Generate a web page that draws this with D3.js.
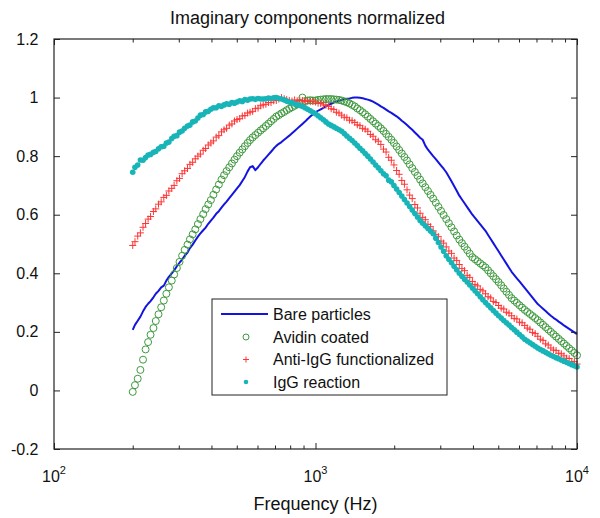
<!DOCTYPE html>
<html><head><meta charset="utf-8">
<script src="https://cdn.jsdelivr.net/npm/d3@7"></script>
<style>html,body{margin:0;padding:0;background:#fff}svg{display:block}</style>
</head><body>
<script>
const freq = [200,204,209,214,219,224,229,234,240,245,251,257,263,269,275,282,288,295,302,309,316,324,331,339,347,355,363,372,380,389,398,407,417,427,437,447,457,468,479,490,501,513,525,537,550,562,575,589,603,617,631,646,661,676,692,708,724,741,759,776,794,813,832,851,871,891,912,933,955,977,1000,
1023,1047,1072,1096,1122,1148,1175,1202,1230,1259,1288,1318,1349,1380,1413,1445,1479,1514,1549,1585,1622,1660,1698,1738,1778,1820,1862,1905,1950,1995,2042,2089,2138,2188,2239,2291,2344,2399,2455,2512,2570,2630,2692,2754,2818,2884,2951,3020,3090,3162,3236,3311,3388,3467,3548,3631,3715,3802,3890,3981,4074,4169,4266,4365,4467,4571,4677,4786,4898,5012,5129,5248,5370,5495,5623,5754,5888,6026,6166,6310,6457,6607,6761,6918,7079,7244,7413,7586,7762,7943,8128,8318,8511,8710,8913,9120,9333,9550,9772,10000];

const bare = [0.207,0.224,0.238,0.252,0.270,0.285,
0.296,0.305,0.318,0.330,0.340,0.352,0.358,0.375,0.388,0.400,0.410,0.424,0.436,0.447,0.460,
0.471,0.486,0.498,0.512,0.525,0.536,0.547,0.556,0.569,0.580,0.590,0.603,0.612,0.624,0.635,
0.645,0.657,0.668,0.679,0.690,0.701,0.715,0.729,0.748,0.762,0.766,0.752,0.762,0.774,0.785,
0.795,0.805,0.815,0.826,0.835,0.842,0.848,0.856,0.863,0.870,0.878,0.886,0.894,0.902,0.910,
0.918,0.927,0.935,0.943,0.950,0.955,0.960,0.965,0.970,0.975,0.979,0.983,0.986,0.989,0.992,
0.994,0.996,0.997,0.999,1.000,1.000,0.999,0.998,0.995,0.993,0.990,0.986,0.981,0.976,0.970,
0.965,0.959,0.953,0.948,0.942,0.936,0.929,0.921,0.914,0.906,0.898,0.890,0.881,0.872,0.863,
0.856,0.836,0.822,0.811,0.800,0.790,0.779,0.768,0.757,0.745,0.730,0.714,0.698,0.682,0.665,
0.652,0.639,0.626,0.613,0.600,0.589,0.578,0.567,0.556,0.545,0.531,0.517,0.503,0.489,0.475,
0.461,0.447,0.433,0.419,0.405,0.394,0.383,0.372,0.361,0.350,0.339,0.328,0.317,0.306,0.295,
0.287,0.279,0.271,0.263,0.255,0.248,0.242,0.235,0.229,0.222,0.216,0.210,0.204,0.198,0.192];

const avidin = [-0.005,0.018,0.040,0.070,0.105,0.140,
0.165,0.190,0.213,0.237,0.260,0.284,0.307,0.330,0.352,0.375,0.396,0.418,0.439,0.460,0.480,
0.498,0.516,0.533,0.550,0.568,0.585,0.602,0.619,0.635,0.650,0.668,0.686,0.703,0.720,0.735,
0.749,0.762,0.775,0.788,0.800,0.812,0.823,0.834,0.845,0.855,0.864,0.872,0.880,0.888,0.895,
0.903,0.911,0.919,0.927,0.935,0.940,0.946,0.951,0.957,0.962,0.967,0.972,0.977,0.982,1.000,
0.988,0.990,0.991,0.990,0.990,0.992,0.993,0.994,0.995,0.995,0.995,0.994,0.993,0.992,0.990,
0.987,0.984,0.980,0.975,0.970,0.963,0.957,0.950,0.943,0.935,0.927,0.919,0.911,0.903,0.895,
0.886,0.876,0.866,0.856,0.845,0.833,0.821,0.809,0.797,0.785,0.772,0.759,0.746,0.733,0.720,
0.707,0.694,0.681,0.668,0.655,0.641,0.627,0.613,0.599,0.585,0.571,0.557,0.543,0.529,0.515,
0.503,0.491,0.479,0.467,0.455,0.448,0.441,0.434,0.427,0.420,0.410,0.400,0.390,0.380,0.370,
0.359,0.348,0.337,0.326,0.315,0.307,0.299,0.291,0.283,0.275,0.268,0.261,0.254,0.247,0.240,
0.232,0.224,0.216,0.208,0.200,0.192,0.184,0.176,0.168,0.160,0.152,0.144,0.136,0.128,0.120];

const antiIgG = [0.495,0.508,0.527,0.538,0.557,0.570,
0.585,0.594,0.611,0.620,0.636,0.644,0.659,0.666,0.681,0.690,0.700,0.716,0.724,0.740,0.750,
0.758,0.772,0.779,0.791,0.800,0.807,0.820,0.826,0.838,0.845,0.852,0.865,0.870,0.883,0.890,
0.895,0.906,0.910,0.920,0.925,0.928,0.937,0.939,0.947,0.950,0.953,0.962,0.964,0.972,0.975,
0.977,0.983,0.983,0.989,0.990,0.995,1.000,0.996,0.993,0.990,0.988,0.992,0.989,0.991,0.990,
0.987,0.989,0.986,0.987,0.985,0.981,0.980,0.975,0.974,0.970,0.962,0.959,0.950,0.947,0.940,
0.933,0.931,0.923,0.921,0.915,0.907,0.904,0.895,0.892,0.885,0.874,0.868,0.856,0.851,0.840,
0.824,0.814,0.796,0.786,0.770,0.751,0.738,0.717,0.704,0.685,0.667,0.655,0.635,0.623,0.605,
0.591,0.583,0.567,0.559,0.545,0.532,0.525,0.510,0.503,0.490,0.476,0.468,0.452,0.444,0.430,
0.416,0.409,0.393,0.386,0.372,0.362,0.357,0.345,0.340,0.330,0.320,0.316,0.304,0.300,0.290,
0.281,0.278,0.267,0.264,0.255,0.246,0.244,0.233,0.231,0.222,0.213,0.209,0.198,0.194,0.185,
0.175,0.171,0.159,0.155,0.145,0.138,0.136,0.127,0.125,0.118,0.110,0.109,0.099,0.098,0.090];

const igg = [0.745,0.762,0.770,0.787,0.786,0.795,
0.804,0.806,0.813,0.816,0.825,0.832,0.834,0.845,0.848,0.860,0.868,0.870,0.882,0.886,0.895,
0.903,0.906,0.917,0.920,0.930,0.940,0.942,0.951,0.953,0.960,0.965,0.965,0.972,0.970,0.975,
0.979,0.977,0.983,0.981,0.985,0.989,0.987,0.993,0.991,0.995,0.996,0.994,0.997,0.995,0.995,
0.996,0.998,0.997,0.999,1.000,0.997,0.995,0.992,0.988,0.985,0.982,0.979,0.976,0.973,0.970,
0.965,0.960,0.955,0.950,0.945,0.938,0.931,0.924,0.917,0.910,0.905,0.900,0.895,0.890,0.885,
0.877,0.869,0.861,0.853,0.845,0.836,0.827,0.818,0.809,0.800,0.790,0.780,0.770,0.760,0.750,
0.740,0.733,0.718,0.712,0.700,0.688,0.676,0.664,0.652,0.640,0.628,0.616,0.604,0.592,0.580,
0.571,0.562,0.553,0.544,0.535,0.520,0.505,0.490,0.475,0.460,0.448,0.436,0.424,0.412,0.400,
0.390,0.380,0.370,0.360,0.350,0.340,0.330,0.320,0.310,0.300,0.291,0.282,0.273,0.264,0.255,
0.247,0.239,0.231,0.223,0.215,0.207,0.199,0.191,0.183,0.175,0.169,0.163,0.157,0.151,0.145,
0.140,0.135,0.130,0.125,0.120,0.116,0.112,0.108,0.104,0.100,0.096,0.092,0.088,0.084,0.080];

const yTicks = [-0.2, 0, 0.2, 0.4, 0.6, 0.8, 1, 1.2];
const yTickLabels = ["-0.2", "0", "0.2", "0.4", "0.6", "0.8", "1", "1.2"];
const xMajor = [100, 1000, 10000];
const xMajorExp = ["2", "3", "4"];
const xMinor = [200,300,400,500,600,700,800,900,2000,3000,4000,5000,6000,7000,8000,9000];
const legendLabels = ["Bare particles", "Avidin coated", "Anti-IgG functionalized", "IgG reaction"];
const titleText = "Imaginary components normalized";
const xLabelText = "Frequency (Hz)";

const W = 600, H = 518;
const L = 54, R = 577, T = 39, B = 449;
const FONT = "'Liberation Sans', Arial, Helvetica, sans-serif";
const C_BLUE = "#1414e0", C_GREEN = "#3f9a3f", C_RED = "#ff3535", C_CYAN = "#17b4b8";

const svg = d3.select("body").append("svg").attr("width", W).attr("height", H)
  .style("font-family", FONT);

const x = d3.scaleLog().domain([100, 10000]).range([L, R]);
const y = d3.scaleLinear().domain([-0.2, 1.2]).range([B, T]);

function pts(vals) {
  const n = Math.min(freq.length, vals.length);
  const out = [];
  for (let i = 0; i < n; i++) out.push([freq[i], vals[i]]);
  return out;
}

const plot = svg.append("g");

// Bare particles: line
plot.append("path").datum(pts(bare))
  .attr("fill", "none").attr("stroke", C_BLUE).attr("stroke-width", 2)
  .attr("stroke-linejoin", "round")
  .attr("d", d3.line().x(d => x(d[0])).y(d => y(d[1])));

// Avidin: open circles
plot.append("g").selectAll("circle").data(pts(avidin)).join("circle")
  .attr("cx", d => x(d[0])).attr("cy", d => y(d[1])).attr("r", 3.5)
  .attr("fill", "none").attr("stroke", C_GREEN).attr("stroke-width", 1);

// Anti-IgG: plus markers
plot.append("g").selectAll("path").data(pts(antiIgG)).join("path")
  .attr("transform", d => `translate(${x(d[0])},${y(d[1])})`)
  .attr("d", "M-3.5,0H3.5M0,-3.5V3.5")
  .attr("fill", "none").attr("stroke", C_RED).attr("stroke-width", 1);

// IgG: filled dots
plot.append("g").selectAll("circle").data(pts(igg)).join("circle")
  .attr("cx", d => x(d[0])).attr("cy", d => y(d[1])).attr("r", 2.8)
  .attr("fill", C_CYAN).attr("stroke", "none");

// Axes (inward ticks on all four sides)
function styleAxis(g) {
  g.select(".domain").remove();
  g.selectAll(".tick line").attr("stroke", "#222");
}
svg.append("g").attr("transform", `translate(0,${B})`)
  .call(d3.axisBottom(x).tickValues(xMajor).tickSize(-6).tickSizeOuter(0).tickFormat(""))
  .call(styleAxis);
svg.append("g").attr("transform", `translate(0,${B})`)
  .call(d3.axisBottom(x).tickValues(xMinor).tickSize(-3.5).tickSizeOuter(0).tickFormat(""))
  .call(styleAxis);
svg.append("g").attr("transform", `translate(0,${T})`)
  .call(d3.axisTop(x).tickValues(xMajor).tickSize(-6).tickSizeOuter(0).tickFormat(""))
  .call(styleAxis);
svg.append("g").attr("transform", `translate(0,${T})`)
  .call(d3.axisTop(x).tickValues(xMinor).tickSize(-3.5).tickSizeOuter(0).tickFormat(""))
  .call(styleAxis);
const yl = svg.append("g").attr("transform", `translate(${L},0)`)
  .call(d3.axisLeft(y).tickValues(yTicks).tickSize(-6).tickSizeOuter(0).tickPadding(15.5)
    .tickFormat((d, i) => yTickLabels[i]))
  .call(styleAxis);
yl.selectAll("text").attr("font-size", 16).attr("font-family", FONT).attr("fill", "#111");
svg.append("g").attr("transform", `translate(${R},0)`)
  .call(d3.axisRight(y).tickValues(yTicks).tickSize(-6).tickSizeOuter(0).tickFormat(""))
  .call(styleAxis);

// Frame
svg.append("rect").attr("x", L).attr("y", T).attr("width", R - L).attr("height", B - T)
  .attr("fill", "none").attr("stroke", "#222").attr("stroke-width", 1.2);

// X tick labels with superscript
xMajor.forEach((v, i) => {
  const t = svg.append("text").attr("x", x(v)).attr("y", 482)
    .attr("text-anchor", "middle").attr("font-size", 16).attr("fill", "#111");
  t.append("tspan").text("10");
  t.append("tspan").attr("dy", -8).attr("font-size", 11).text(xMajorExp[i]);
});

// Axis label & title
svg.append("text").attr("x", (L + R) / 2).attr("y", 510).attr("text-anchor", "middle")
  .attr("font-size", 18).attr("fill", "#111").text(xLabelText);
svg.append("text").attr("x", (L + R) / 2 - 8).attr("y", 24).attr("text-anchor", "middle")
  .attr("font-size", 18).attr("fill", "#111").text(titleText);

// Legend
const lg = svg.append("g");
lg.append("rect").attr("x", 212).attr("y", 299).attr("width", 235).attr("height", 96)
  .attr("fill", "#fff").attr("stroke", "#222").attr("stroke-width", 1);
const rowY = [314, 337, 359.5, 382];
lg.append("line").attr("x1", 221).attr("x2", 268).attr("y1", rowY[0]).attr("y2", rowY[0])
  .attr("stroke", C_BLUE).attr("stroke-width", 2);
lg.append("circle").attr("cx", 246).attr("cy", rowY[1]).attr("r", 3)
  .attr("fill", "none").attr("stroke", C_GREEN).attr("stroke-width", 1);
lg.append("path").attr("transform", `translate(246,${rowY[2]})`).attr("d", "M-3,0H3M0,-3V3")
  .attr("stroke", C_RED).attr("stroke-width", 1);
lg.append("circle").attr("cx", 246).attr("cy", rowY[3]).attr("r", 2.3).attr("fill", C_CYAN);
legendLabels.forEach((s, i) => {
  lg.append("text").attr("x", 273).attr("y", rowY[i]).attr("dy", "0.35em")
    .attr("font-size", 16).attr("fill", "#111").text(s);
});
</script>
</body></html>
